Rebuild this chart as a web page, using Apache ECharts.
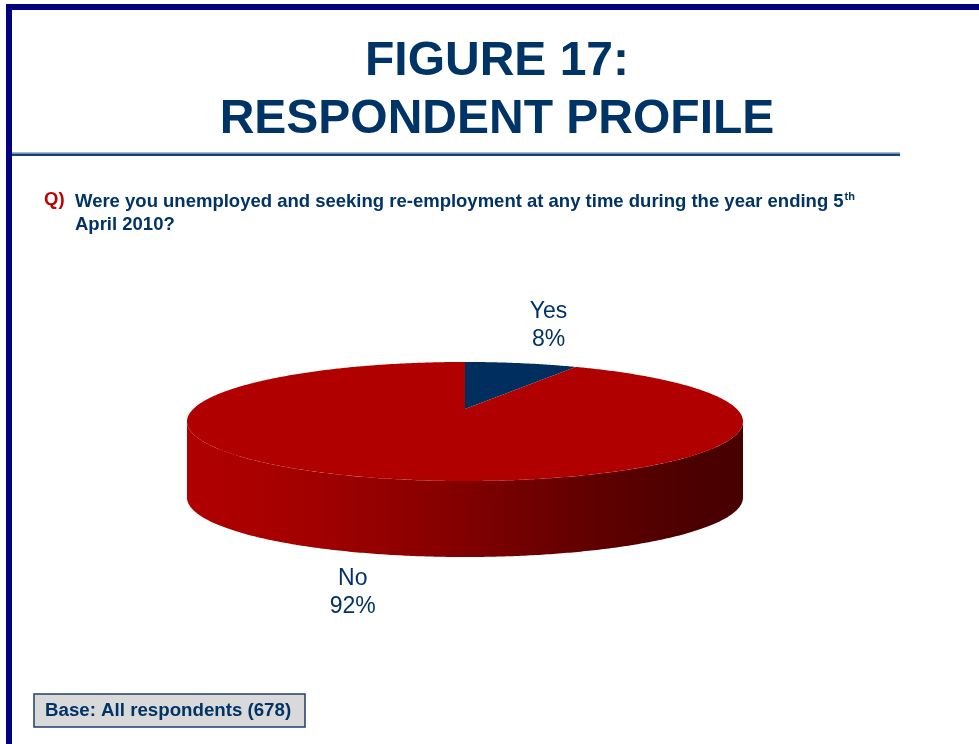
<!DOCTYPE html>
<html>
<head>
<meta charset="utf-8">
<script src="https://cdn.jsdelivr.net/npm/echarts@6/dist/echarts.min.js"></script>
<style>
  html, body { margin: 0; padding: 0; background: #ffffff; }
  #chart { width: 979px; height: 744px; }
</style>
</head>
<body>
<div id="chart"></div>
<script>
// Survey answers and their shares (percent)
const categories = ['Yes', 'No'];
const shares = [8, 92];
const sliceColors = ['#002f5f', '#b00000'];

const FONT = "'Liberation Sans', Arial, Helvetica, sans-serif";
const NAVY = '#003366';

const chart = echarts.init(document.getElementById('chart'), null, { renderer: 'canvas' });

// Tilted-disc geometry (perspective view of a flat pie)
const CX = 465, CY = 409, RX = 271.8, RY = 56.9, PERSP = 0.21, DEPTH = 76;

function project(theta, r, dy) {
  const u = r * Math.sin(theta);
  const w = -r * Math.cos(theta);
  const s = 1 / (1 - PERSP * w);
  return [CX + RX * u * s, CY + RY * w * s + (dy || 0)];
}

const total = shares.reduce((a, b) => a + b, 0);
const starts = [];
let acc = 0;
shares.forEach(v => { starts.push(acc); acc += v; });

// Angles where the rim turns from hidden back to visible front
const SIDE_FROM = Math.acos(-PERSP);
const SIDE_TO = 2 * Math.PI - SIDE_FROM;
const EDGE = RX / Math.sqrt(1 - PERSP * PERSP);

function arcPoints(a0, a1, r, dy) {
  const pts = [];
  const n = Math.max(2, Math.ceil((a1 - a0) / (Math.PI / 360)));
  for (let k = 0; k <= n; k++) pts.push(project(a0 + (a1 - a0) * k / n, r, dy));
  return pts;
}

function renderSlice(params, api) {
  const i = params.dataIndex;
  const value = api.value(0);
  const a0 = starts[i] / total * 2 * Math.PI;
  const a1 = (starts[i] + value) / total * 2 * Math.PI;
  const children = [];

  // Visible outer wall
  const s0 = Math.max(a0, SIDE_FROM), s1 = Math.min(a1, SIDE_TO);
  if (s1 > s0) {
    const top = arcPoints(s0, s1, 1, 0);
    const bot = arcPoints(s0, s1, 1, DEPTH).reverse();
    children.push({
      type: 'polygon',
      shape: { points: top.concat(bot) },
      style: {
        fill: new echarts.graphic.LinearGradient(CX - EDGE, 0, CX + EDGE, 0, [
          { offset: 0, color: '#b00000' },
          { offset: 0.18, color: '#a60000' },
          { offset: 0.45, color: '#880000' },
          { offset: 0.7, color: '#640000' },
          { offset: 0.9, color: '#4c0000' },
          { offset: 1, color: '#470000' }
        ], true)
      }
    });
  }

  // Top face
  const face = [project(0, 0, 0)].concat(arcPoints(a0, a1, 1, 0));
  children.push({
    type: 'polygon',
    shape: { points: face },
    style: { fill: sliceColors[i] }
  });

  // Category label with percentage
  const mid = (a0 + a1) / 2;
  const rim = project(mid, 1, 0);
  const back = -Math.cos(mid) < 0;
  children.push({
    type: 'text',
    x: rim[0] + 110 * Math.sin(mid),
    y: back ? rim[1] - 38 : rim[1] + DEPTH + 38,
    style: {
      text: categories[i] + '\n' + value + '%',
      font: '23px ' + FONT,
      fill: NAVY,
      align: 'center',
      verticalAlign: 'middle',
      lineHeight: 28
    }
  });

  return { type: 'group', children: children };
}

const option = {
  backgroundColor: '#ffffff',
  animation: false,
  graphic: [
    // Page frame
    { type: 'rect', shape: { x: 6, y: 4, width: 973, height: 6 }, style: { fill: '#000080' } },
    { type: 'rect', shape: { x: 6, y: 4, width: 6, height: 740 }, style: { fill: '#000080' } },
    // Heading
    { type: 'text', x: 497, y: 62, style: { text: 'FIGURE 17:', font: 'bold 48px ' + FONT, fill: NAVY, align: 'center', verticalAlign: 'middle' } },
    { type: 'text', x: 497, y: 120, style: { text: 'RESPONDENT PROFILE', font: 'bold 48px ' + FONT, fill: NAVY, align: 'center', verticalAlign: 'middle' } },
    // Rule under heading
    { type: 'rect', shape: { x: 12, y: 152, width: 888, height: 1.5 }, style: { fill: '#a9bad3' } },
    { type: 'rect', shape: { x: 12, y: 153.5, width: 888, height: 2.5 }, style: { fill: '#173f78' } },
    // Question
    { type: 'text', x: 44, y: 200, style: { text: 'Q)', font: 'bold 18.5px ' + FONT, fill: '#c00000', align: 'left', verticalAlign: 'middle' } },
    {
      type: 'text', x: 75, y: 188,
      style: {
        text: '{m|Were you unemployed and seeking re-employment at any time during the year ending 5}{s|th}\n{m|April 2010?}',
        align: 'left', verticalAlign: 'top',
        rich: {
          m: { font: 'bold 18.5px ' + FONT, fill: NAVY, lineHeight: 23, verticalAlign: 'bottom' },
          s: { font: 'bold 11px ' + FONT, fill: NAVY, lineHeight: 23, verticalAlign: 'top', padding: [3, 0, 0, 1] }
        }
      }
    },
    // Base note
    { type: 'rect', shape: { x: 34, y: 694, width: 271, height: 33 }, style: { fill: '#d9d9d9', stroke: '#1f3d6e', lineWidth: 1.5 } },
    { type: 'text', x: 45, y: 711, style: { text: 'Base: All respondents (678)', font: 'bold 18.7px ' + FONT, fill: NAVY, align: 'left', verticalAlign: 'middle' } }
  ],
  series: [{
    type: 'custom',
    coordinateSystem: 'none',
    renderItem: renderSlice,
    data: categories.map((c, i) => ({ name: c, value: [shares[i]] }))
  }]
};

chart.setOption(option);
</script>
</body>
</html>
